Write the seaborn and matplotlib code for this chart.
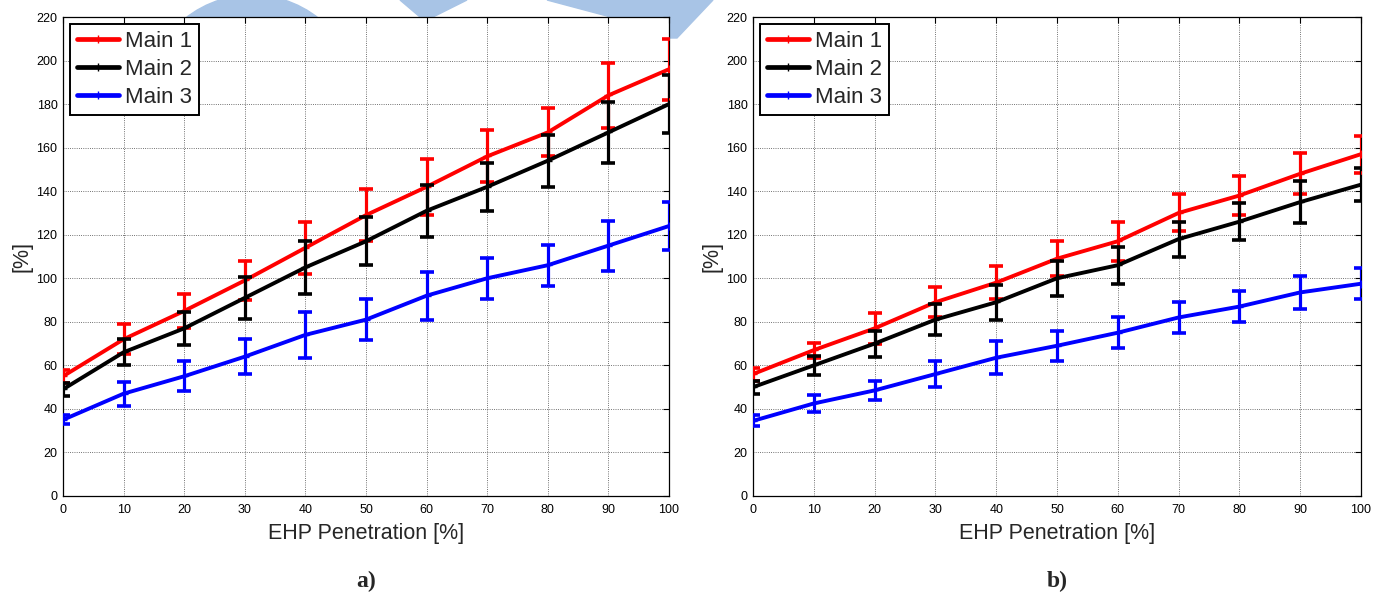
import numpy as np
import pandas as pd
import matplotlib
matplotlib.use("Agg")
import matplotlib.pyplot as plt
from matplotlib.patches import Polygon, Ellipse
from matplotlib.lines import Line2D
import seaborn as sns

# ---------------- data ----------------
x_pen = [0, 10, 20, 30, 40, 50, 60, 70, 80, 90, 100]
series_names = ["Main 1", "Main 2", "Main 3"]
series_colors = ["#ff0000", "#000000", "#0000ff"]

# panel a)
a_main1 = [55, 72, 85, 99, 114, 129, 142, 156, 167, 184, 196]
a_main2 = [49, 66, 77, 91, 105, 117, 131, 142, 154, 167, 180]
a_main3 = [35, 47, 55, 64, 74, 81, 92, 100, 106, 115, 124]
a_err1 = [3, 7, 8, 9, 12, 12, 13, 12, 11, 15, 14]
a_err2 = [3, 6, 7.5, 9.5, 12, 11, 12, 11, 12, 14, 13.5]
a_err3 = [2, 5.5, 7, 8, 10.5, 9.5, 11, 9.5, 9.5, 11.5, 11]

# panel b)
b_main1 = [56, 67, 77, 89, 98, 109, 117, 130, 138, 148, 157]
b_main2 = [50, 60, 70, 81, 89, 100, 106, 118, 126, 135, 143]
b_main3 = [34.5, 42.5, 48.5, 56, 63.5, 69, 75, 82, 87, 93.5, 97.5]
b_err1 = [3, 3.5, 7, 7, 7.5, 8, 9, 8.5, 9, 9.5, 8.5]
b_err2 = [3, 4.5, 6, 7, 8, 8, 8.5, 8, 8.5, 9.5, 7.5]
b_err3 = [2.5, 4, 4.5, 6, 7.5, 7, 7, 7, 7, 7.5, 7]

y_ticks = [0, 20, 40, 60, 80, 100, 120, 140, 160, 180, 200, 220]
x_ticks = [0, 10, 20, 30, 40, 50, 60, 70, 80, 90, 100]
x_label = "EHP Penetration [%]"
y_label = "[%]"
panel_labels = ["a)", "b)"]

# ---------------- style ----------------
sns.set_theme(style="white")
plt.rcParams["font.family"] = ["Liberation Sans", "DejaVu Sans"]

W, H = 1381, 596
fig = plt.figure(figsize=(W / 100, H / 100), dpi=100)
fig.patch.set_facecolor("white")

# faint watermark shapes behind the axes (pixel coords -> figure coords)
wm = "#a8c4e6"
def px(x, y):
    return (x / W, 1 - y / H)
fig.patches.append(Ellipse(px(252, 102), 2 * 107 / W, 2 * 107 / H,
                           transform=fig.transFigure, color=wm, zorder=-5))
fig.patches.append(Polygon([px(400, 0), px(467, 0), px(433, 17), px(420, 17)],
                           closed=True, transform=fig.transFigure, color=wm, zorder=-5))
fig.patches.append(Polygon([px(547, 0), px(713, 0), px(677, 38), px(660, 38), px(607, 16)],
                           closed=True, transform=fig.transFigure, color=wm, zorder=-5))

ax_a = fig.add_axes([63 / W, 1 - 496 / H, 606 / W, 479 / H])
ax_b = fig.add_axes([753 / W, 1 - 496 / H, 608 / W, 479 / H])

panels = [
    (ax_a, [a_main1, a_main2, a_main3], [a_err1, a_err2, a_err3], panel_labels[0]),
    (ax_b, [b_main1, b_main2, b_main3], [b_err1, b_err2, b_err3], panel_labels[1]),
]

for ax, vals, errs, plab in panels:
    ax.set_facecolor("white")
    df = pd.DataFrame({
        "x": np.tile(x_pen, len(series_names)),
        "y": np.concatenate(vals),
        "series": np.repeat(series_names, len(x_pen)),
    })
    for i, (name, col) in enumerate(zip(series_names, series_colors)):
        sub = df[df["series"] == name]
        sns.lineplot(data=sub, x="x", y="y", ax=ax, color=col, linewidth=2.8,
                     marker="+", markersize=6, markeredgewidth=1.0,
                     markeredgecolor=col, zorder=3 + 2 * i, legend=False)
        ax.errorbar(x_pen, vals[i], yerr=errs[i], fmt="none", ecolor=col,
                    elinewidth=2.3, capsize=4.8, capthick=2.6, zorder=3 + 2 * i + 1)

    ax.set_xlim(0, 100)
    ax.set_ylim(0, 220)
    ax.set_xticks(x_ticks)
    ax.set_yticks(y_ticks)
    ax.grid(True, color="#444444", linestyle=":", linewidth=0.6)
    ax.tick_params(direction="in", length=4, width=0.8, top=True, right=True,
                   labelsize=9, colors="black", pad=4)
    ax.tick_params(axis="x", pad=6)
    for s in ax.spines.values():
        s.set_visible(True)
        s.set_color("black")
        s.set_linewidth(0.9)
    ax.set_xlabel(x_label, fontsize=15.5, labelpad=5)
    ax.set_ylabel(y_label, fontsize=15.5, labelpad=3)

    leg_handles = [Line2D([0], [0], color=c, linewidth=3.4, marker="+",
                          markersize=6, markeredgewidth=1.0)
                   for c in series_colors]
    leg = ax.legend(leg_handles, series_names, loc="upper left", fontsize=16,
                    frameon=True, fancybox=False, framealpha=1, edgecolor="black",
                    borderaxespad=0.33, handlelength=1.9, handletextpad=0.25,
                    borderpad=0.3, labelspacing=0.32)
    leg.get_frame().set_linewidth(1.4)

    ax.text(0.5, -0.178, plab, transform=ax.transAxes, ha="center", va="center",
            fontsize=17, fontweight="bold", family=["Liberation Serif", "DejaVu Serif"])

fig.savefig("out.png", dpi=100, facecolor="white")
